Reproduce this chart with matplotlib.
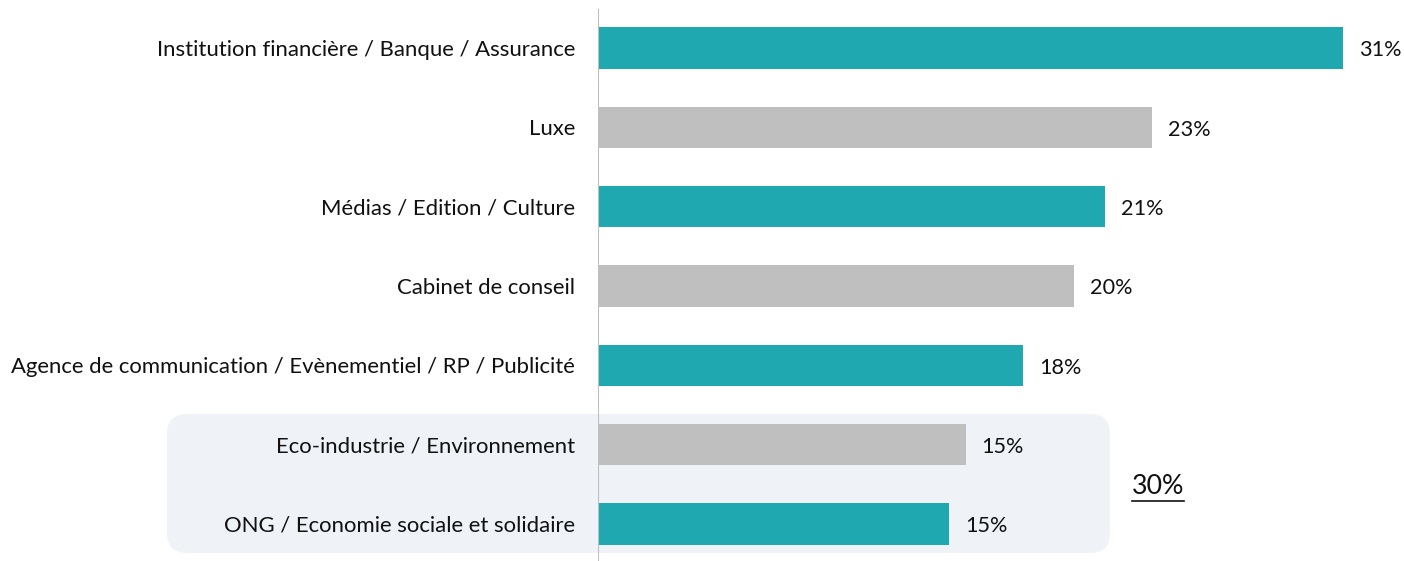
import matplotlib
matplotlib.use("Agg")
import matplotlib.pyplot as plt
from matplotlib.patches import FancyBboxPatch
from matplotlib.lines import Line2D
from matplotlib.transforms import IdentityTransform

categories = [
    "Institution financière / Banque / Assurance",
    "Luxe",
    "Médias / Edition / Culture",
    "Cabinet de conseil",
    "Agence de communication / Evènementiel / RP / Publicité",
    "Eco-industrie / Environnement",
    "ONG / Economie sociale et solidaire",
]
values = [31.0, 23.05, 21.1, 19.8, 17.7, 15.3, 14.6]
labels = ["31%", "23%", "21%", "20%", "18%", "15%", "15%"]
group_total = "30%"

TEAL = "#20a8b0"
GREY = "#bfbfbf"
colors = [TEAL if i % 2 == 0 else GREY for i in range(len(values))]

plt.rcParams["font.family"] = ["Lato", "DejaVu Sans"]

W, H = 1404, 561
fig = plt.figure(figsize=(W / 100, H / 100), dpi=100)
ax = fig.add_axes([598 / W, 0, (W - 598) / W, 1])
ax.set_facecolor("none")

# rounded highlight box behind the last two categories (pixel coords)
box = FancyBboxPatch((167 + 20, 8 + 20), 943 - 40, 139 - 40,
                     boxstyle="round,pad=20", transform=IdentityTransform(),
                     facecolor="#eff2f7", edgecolor="none", zorder=-5)
fig.patches.append(box)

pos = list(range(len(values)))
ax.barh(pos, values, height=0.52, color=colors, zorder=2)

for p, v, lab in zip(pos, values, labels):
    ax.annotate(lab, (v, p + 0.03), xytext=(11.5, 0), textcoords="offset points",
                va="center", ha="left", fontsize=15.6, color="#111111")

ax.set_xlim(0, (W - 598) / 24.03)
ax.set_ylim(6 + (H - 524) / 79.33, -48 / 79.33)
ax.set_yticks(pos, categories, fontsize=15.9, color="#111111")
ax.tick_params(axis="y", length=0, pad=16.5)
ax.set_xticks([])
for s in ax.spines.values():
    s.set_visible(False)
ax.axvline(0, ymin=0, ymax=(H - 10) / H, color=GREY, lw=1.5, zorder=3)

t = fig.text(1158 / W, 1 - 487 / H, group_total, ha="center", va="center",
             fontsize=19.3, color="#111111")
fig.canvas.draw()
bb = t.get_window_extent()
fig.lines.append(Line2D([bb.x0, bb.x1], [bb.y0 - 1, bb.y0 - 1], color="#111111",
                        lw=1.2, transform=IdentityTransform()))

fig.savefig("out.png", dpi=100)
